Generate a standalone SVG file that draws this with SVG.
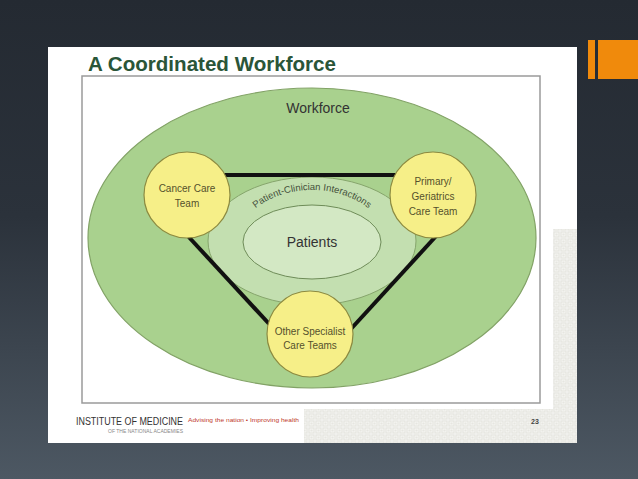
<svg xmlns="http://www.w3.org/2000/svg" width="638" height="479" viewBox="0 0 638 479">
<defs>
<linearGradient id="bg" x1="0" y1="0" x2="0" y2="1">
<stop offset="0" stop-color="#242a32"/>
<stop offset="0.45" stop-color="#2b323b"/>
<stop offset="1" stop-color="#4d5863"/>
</linearGradient>
<pattern id="pat" x="0" y="0" width="7" height="7" patternUnits="userSpaceOnUse">
<rect width="7" height="7" fill="#f4f4f1"/>
<rect x="1" y="1" width="5" height="5" fill="none" stroke="#e0e0da" stroke-width="0.8"/>
<circle cx="3.5" cy="3.5" r="1.1" fill="#e6e6e0"/>
</pattern>
<path id="arc" d="M 237,244 A 75,54 0 0 1 387,244"/>
</defs>
<style>
.lbl{font-family:"Liberation Sans",Arial,sans-serif;fill:#333;text-anchor:middle}
.team{fill:#f6ef88;stroke:#8c8a40;stroke-width:1.2}
.tt{font-family:"Liberation Sans",Arial,sans-serif;font-size:10px;fill:#55512c;text-anchor:middle}
.link{stroke:#111;stroke-width:4;fill:none}
</style>
<rect width="638" height="479" fill="url(#bg)"/>
<!-- orange accent -->
<rect x="588" y="40" width="7" height="39" fill="#f08a0c"/>
<rect x="598" y="40" width="40" height="39" fill="#f08a0c"/>
<!-- slide panel -->
<rect x="48" y="47" width="529" height="396" fill="#ffffff"/>
<rect x="553" y="229" width="24" height="214" fill="url(#pat)"/>
<rect x="304" y="409" width="273" height="34" fill="url(#pat)"/>
<text x="88" y="71" font-family="Liberation Sans,Arial,sans-serif" font-weight="bold" font-size="19.5" fill="#2a5538" textLength="248" lengthAdjust="spacingAndGlyphs">A Coordinated Workforce</text>
<rect x="82" y="76" width="458" height="327" fill="#ffffff" stroke="#9a9a9a" stroke-width="1.5"/>
<g id="workforce">
<ellipse cx="312" cy="238" rx="224" ry="150" fill="#a9d18e" stroke="#82a266" stroke-width="1.2"/>
<text class="lbl" x="318" y="113" font-size="14">Workforce</text>
</g>
<g id="interactions">
<ellipse cx="312" cy="241" rx="104" ry="64" fill="#c3dfb0" stroke="#86a56c" stroke-width="1"/>
<text font-family="Liberation Sans,Arial,sans-serif" font-size="9.5" fill="#44503a"><textPath href="#arc" startOffset="50%" text-anchor="middle">Patient-Clinician Interactions</textPath></text>
</g>
<g id="patients">
<ellipse cx="312" cy="242" rx="69" ry="37" fill="#d3e8c4" stroke="#6e8c58" stroke-width="1"/>
<text class="lbl" x="312" y="247" font-size="14">Patients</text>
</g>
<g id="connectors">
<line class="link" x1="215" y1="175" x2="405" y2="175"/>
<line class="link" x1="186" y1="234" x2="272" y2="327"/>
<line class="link" x1="438" y1="234" x2="350" y2="330"/>
</g>
<g id="cancer">
<circle class="team" cx="187" cy="195" r="43"/>
<text class="tt" x="187" y="192">Cancer Care</text>
<text class="tt" x="187" y="207">Team</text>
</g>
<g id="primary">
<circle class="team" cx="433" cy="195" r="43"/>
<text class="tt" x="433" y="185">Primary/</text>
<text class="tt" x="433" y="200">Geriatrics</text>
<text class="tt" x="433" y="215">Care Team</text>
</g>
<g id="specialist">
<circle class="team" cx="310" cy="334" r="43"/>
<text class="tt" x="310" y="335">Other Specialist</text>
<text class="tt" x="310" y="349">Care Teams</text>
</g>
<!-- footer -->
<text x="76" y="425" font-family="Liberation Sans,Arial,sans-serif" font-size="10" fill="#333" textLength="107" lengthAdjust="spacingAndGlyphs">INSTITUTE OF MEDICINE</text>
<text x="108" y="433" font-family="Liberation Sans,Arial,sans-serif" font-size="4.5" fill="#888" textLength="75" lengthAdjust="spacingAndGlyphs">OF THE NATIONAL ACADEMIES</text>
<text x="188" y="422" font-family="Liberation Sans,Arial,sans-serif" font-size="5" fill="#c0392b" textLength="111" lengthAdjust="spacingAndGlyphs">Advising the nation • Improving health</text>
<text x="531" y="424" font-family="Liberation Sans,Arial,sans-serif" font-size="7" font-weight="bold" fill="#444">23</text>
</svg>
